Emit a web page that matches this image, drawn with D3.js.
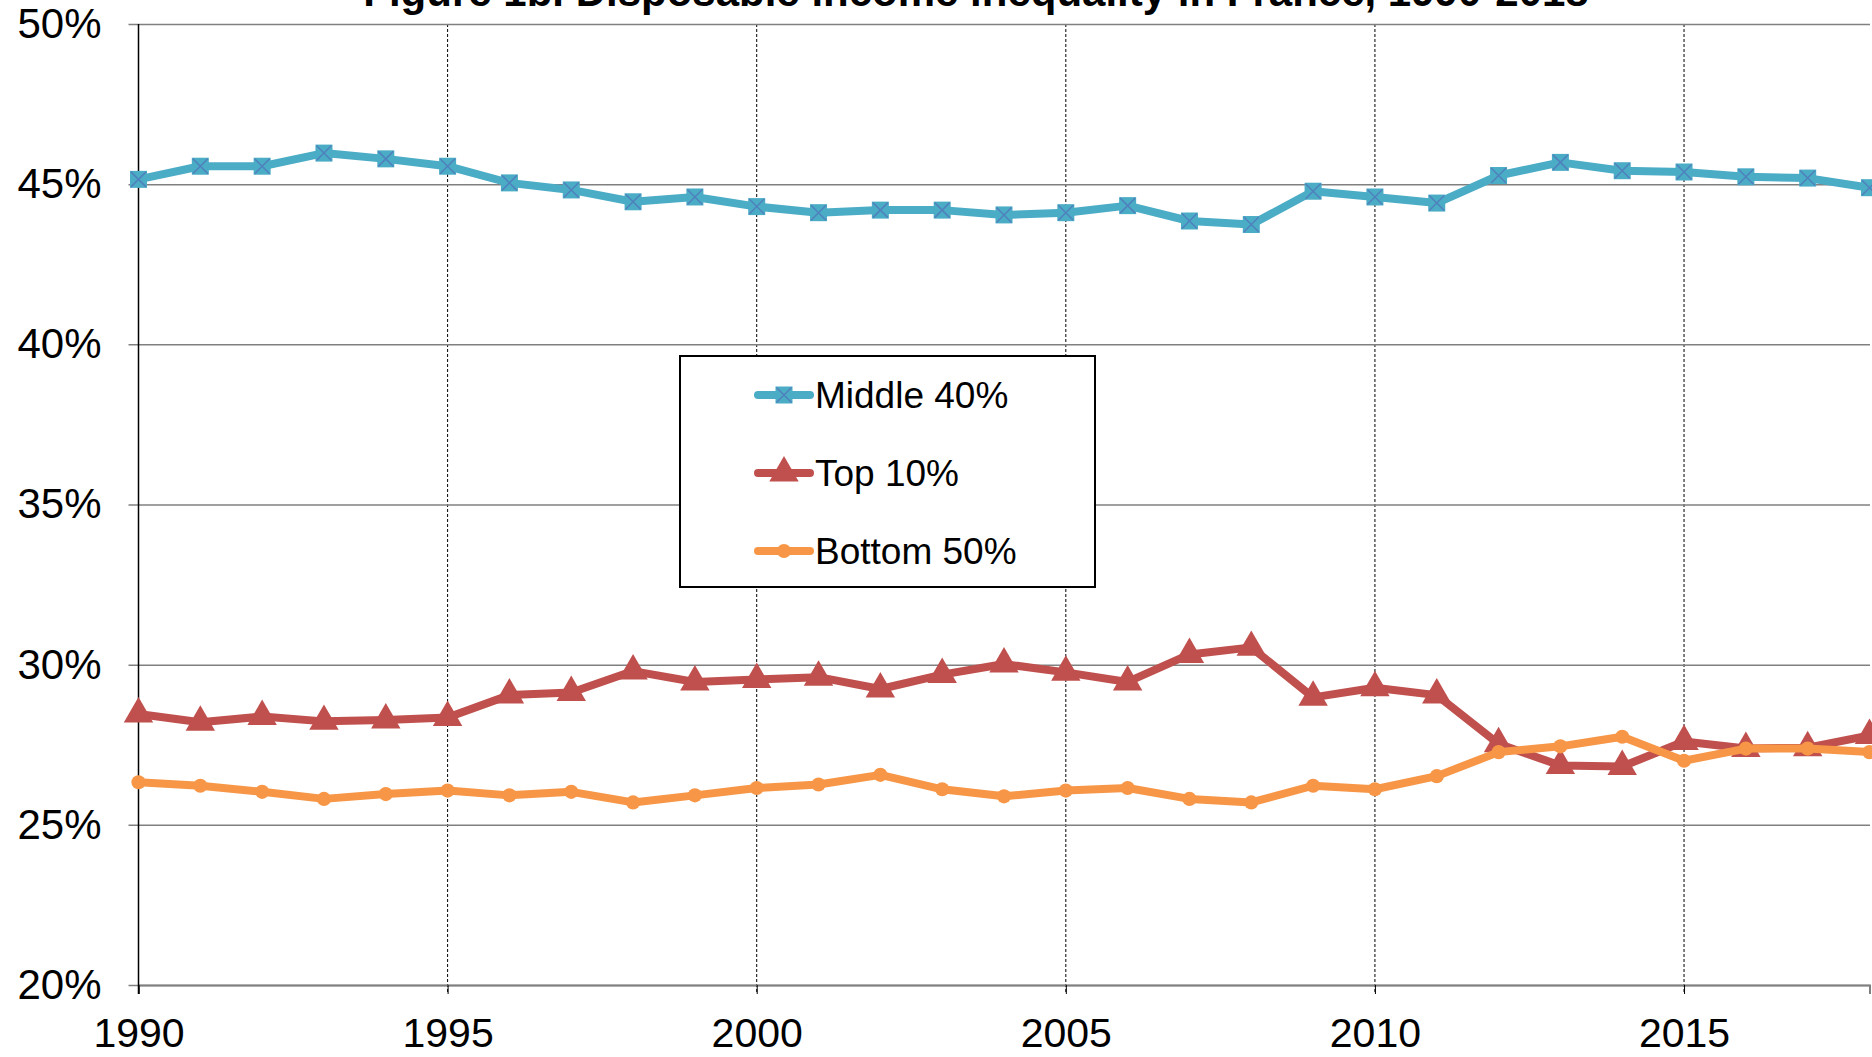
<!DOCTYPE html>
<html>
<head>
<meta charset="utf-8">
<script src="https://cdn.jsdelivr.net/npm/d3@7"></script>
<style>
  body { margin: 0; background: #fff; }
  svg { display: block; font-family: "Liberation Sans", Arial, sans-serif; }
</style>
</head>
<body>
<svg width="1872" height="1057"></svg>
<script>
const years = d3.range(1990, 2019);
const middle40 = [45.15, 45.56, 45.56, 45.97, 45.79, 45.56, 45.04, 44.82, 44.45, 44.60,
                  44.30, 44.11, 44.19, 44.19, 44.04, 44.11, 44.33, 43.85, 43.74, 44.78,
                  44.60, 44.41, 45.27, 45.68, 45.42, 45.38, 45.23, 45.19, 44.89];
const top10 = [28.46, 28.20, 28.38, 28.23, 28.27, 28.35, 29.05, 29.13, 29.80, 29.46,
               29.54, 29.61, 29.24, 29.69, 30.02, 29.76, 29.46, 30.32, 30.54, 28.98,
               29.28, 29.05, 27.53, 26.85, 26.82, 27.60, 27.38, 27.41, 27.79];
const bottom50 = [26.33, 26.22, 26.03, 25.81, 25.96, 26.07, 25.92, 26.03, 25.70, 25.92,
                  26.15, 26.26, 26.56, 26.11, 25.89, 26.07, 26.15, 25.81, 25.70, 26.22,
                  26.11, 26.52, 27.27, 27.45, 27.75, 27.00, 27.38, 27.38, 27.27];
const yTicks = [20, 25, 30, 35, 40, 45, 50];
const xTicks = [1990, 1995, 2000, 2005, 2010, 2015];
const title = 'Figure 1b. Disposable income inequality in France, 1990-2018';

const series = [
  {name: 'Middle 40%', values: middle40, color: '#4BACC6', marker: 'x'},
  {name: 'Top 10%', values: top10, color: '#C0504D', marker: 'tri'},
  {name: 'Bottom 50%', values: bottom50, color: '#F79646', marker: 'dot'}
];

const svg = d3.select('svg');
const margin = {top: 24, right: 2, left: 138.5, bottom: 72};
const width = +svg.attr('width'), height = +svg.attr('height');
const innerWidth = width - margin.left - margin.right;
const innerHeight = height - margin.top - margin.bottom;

const x = d3.scaleLinear().domain([1990, 2018]).range([0, innerWidth - 0.5]);
const y = d3.scaleLinear().domain([20, 50]).range([innerHeight, 0]);

const g = svg.append('g').attr('transform', `translate(${margin.left},${margin.top})`);

// vertical dotted grid
g.append('g').selectAll('line').data(xTicks.slice(1)).join('line')
  .attr('x1', d => x(d)).attr('x2', d => x(d))
  .attr('y1', 0).attr('y2', innerHeight + 9)
  .attr('stroke', '#000').attr('stroke-width', 1).attr('stroke-dasharray', '3,2');

// horizontal grid
const yAxis = d3.axisLeft(y).tickValues(yTicks).tickSize(-innerWidth - 10).tickFormat(d => d + '%');
const ya = g.append('g').attr('transform', 'translate(-10,0)').call(yAxis);
ya.select('.domain').remove();
ya.selectAll('.tick line').attr('x1', 0).attr('x2', innerWidth + 10)
  .attr('stroke', '#808080').attr('stroke-width', 1.5);
ya.selectAll('.tick text').attr('x', -27).attr('font-size', 42).attr('fill', '#000')
  .attr('font-family', '"Liberation Sans", Arial, sans-serif');

// x axis
const xAxis = d3.axisBottom(x).tickValues(xTicks).tickSize(9).tickFormat(d3.format('d'));
const xa = g.append('g').attr('transform', `translate(0,${innerHeight})`).call(xAxis);
xa.select('.domain').attr('stroke', '#808080').attr('stroke-width', 2);
xa.selectAll('.tick line').attr('stroke', '#000');
xa.selectAll('.tick text').attr('y', 62).attr('dy', null).attr('font-size', 41).attr('fill', '#000')
  .attr('font-family', '"Liberation Sans", Arial, sans-serif');

// left axis line
g.append('line').attr('x1', 0).attr('x2', 0).attr('y1', 0).attr('y2', innerHeight + 9)
  .attr('stroke', '#000').attr('stroke-width', 1.5);

const line = d3.line().x((d, i) => x(years[i])).y(d => y(d));

function drawMarker(sel, type, color, s) {
  if (type === 'x') {
    sel.append('rect').attr('x', -s / 2).attr('y', -s / 2).attr('width', s).attr('height', s).attr('fill', color);
    sel.append('path').attr('d', `M${-s/2+1},${-s/2+1}L${s/2-1},${s/2-1}M${-s/2+1},${s/2-1}L${s/2-1},${-s/2+1}`)
      .attr('stroke', '#4F81BD').attr('stroke-width', 1.5);
  } else if (type === 'tri') {
    sel.append('path').attr('d', d3.symbol(d3.symbolTriangle, s * s * 0.85)()).attr('fill', color);
  } else {
    sel.append('circle').attr('r', s / 2.4).attr('fill', color);
  }
}

series.forEach(s => {
  g.append('path').datum(s.values).attr('d', line)
    .attr('fill', 'none').attr('stroke', s.color).attr('stroke-width', 8).attr('stroke-linejoin', 'round');
  g.append('g').selectAll('g').data(s.values).join('g')
    .attr('transform', (d, i) => `translate(${x(years[i])},${y(d)})`)
    .each(function () { drawMarker(d3.select(this), s.marker, s.color, s.marker === 'tri' ? 21 : 17); });
});

// legend
const lg = svg.append('g').attr('transform', 'translate(680,356)');
lg.append('rect').attr('width', 415).attr('height', 231).attr('fill', '#fff')
  .attr('stroke', '#000').attr('stroke-width', 2);
series.forEach((s, i) => {
  const row = lg.append('g').attr('transform', `translate(0,${39 + i * 78})`);
  row.append('line').attr('x1', 78).attr('x2', 130).attr('stroke', s.color)
    .attr('stroke-width', 8).attr('stroke-linecap', 'round');
  drawMarker(row.append('g').attr('transform', 'translate(104,0)'), s.marker, s.color, s.marker === 'tri' ? 21 : 17);
  row.append('text').attr('x', 135).attr('dy', '0.35em').attr('font-size', 37).text(s.name);
});

// title
svg.append('text').attr('x', 976).attr('y', 6).attr('text-anchor', 'middle')
  .attr('font-size', 42).attr('font-weight', 'bold').text(title);
</script>
</body>
</html>
